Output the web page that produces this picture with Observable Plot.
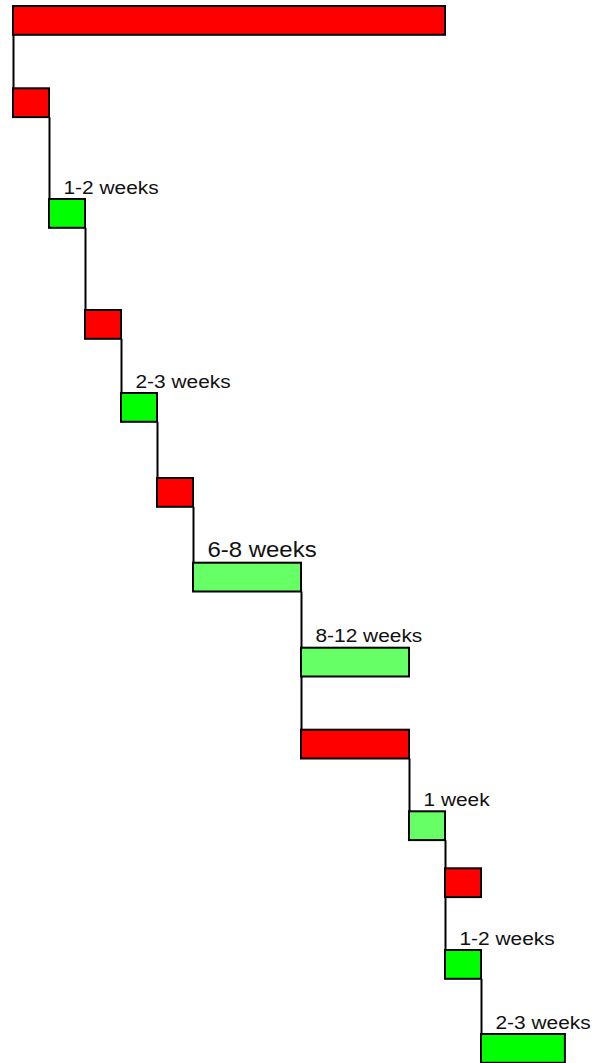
<!DOCTYPE html>
<html>
<head>
<meta charset="utf-8">
<script src="https://cdn.jsdelivr.net/npm/d3@7"></script>
<script src="https://cdn.jsdelivr.net/npm/@observablehq/plot@0.6"></script>
<style>
  html, body { margin: 0; padding: 0; background: #fff; }
  #chart svg { display: block; }
</style>
</head>
<body>
<div id="chart"></div>
<script>
// ---- data ----
const starts = [0, 0, 1, 2, 3, 4, 5, 8, 8, 11, 12, 12, 13];
const ends   = [12, 1, 2, 3, 4, 5, 8, 11, 11, 12, 13, 13, 15.33];
const rowTop = [6, 88.3, 199, 310, 393, 478, 562.7, 647.7, 729.7, 811.3, 868.3, 950, 1034];
const kinds  = ["wait", "wait", "act", "wait", "act", "wait", "long", "long", "wait", "long", "wait", "act", "act"];
const labels = ["", "", "1-2 weeks", "", "2-3 weeks", "", "6-8 weeks", "8-12 weeks", "", "1 week", "", "1-2 weeks", "2-3 weeks"];
const emphasized = ["6-8 weeks"];

const kindDomain = ["wait", "act", "long"];
const kindColors = ["#ff0000", "#00ff00", "#66ff66"];

// ---- build table ----
const barH = 28.8;
const bars = starts.map((s, i) => ({
  i, start: s, end: ends[i], top: rowTop[i], bottom: rowTop[i] + barH,
  kind: kinds[i], label: labels[i]
}));
const links = bars.slice(1).map((b, k) => ({
  x: b.start, y1: bars[k].bottom, y2: b.top
}));
const labeled = bars.filter(d => d.label && !emphasized.includes(d.label));
const big = bars.filter(d => emphasized.includes(d.label));

const chart = Plot.plot({
  width: 605,
  height: 1063,
  marginTop: 0, marginBottom: 0, marginLeft: 13, marginRight: 0,
  x: { domain: [0, 592 / 36], axis: null },
  y: { domain: [0, 1063], range: [0, 1063], axis: null },
  color: { domain: kindDomain, range: kindColors },
  style: { fontFamily: "'Liberation Sans', Arial, sans-serif", background: "#fff" },
  marks: [
    Plot.ruleX(links, { x: "x", y1: "y1", y2: "y2", stroke: "#000", strokeWidth: 2 }),
    Plot.rect(bars, { x1: "start", x2: "end", y1: "top", y2: "bottom", fill: "kind", stroke: "#000", strokeWidth: 2 }),
    Plot.text(labeled, { x: "start", y: "top", text: "label", textAnchor: "start", lineAnchor: "bottom", dx: 14, dy: -6, fontSize: 18.5, fill: "#111" }),
    Plot.text(big, { x: "start", y: "top", text: "label", textAnchor: "start", lineAnchor: "bottom", dx: 14, dy: -6, fontSize: 21.2, fill: "#111" })
  ]
});

// horizontal stretch of the labels, as in the reference
d3.select(chart).selectAll("text").attr("transform", function () {
  return (this.getAttribute("transform") || "") + " scale(1.13,1)";
});

document.getElementById("chart").appendChild(chart);
</script>
</body>
</html>
